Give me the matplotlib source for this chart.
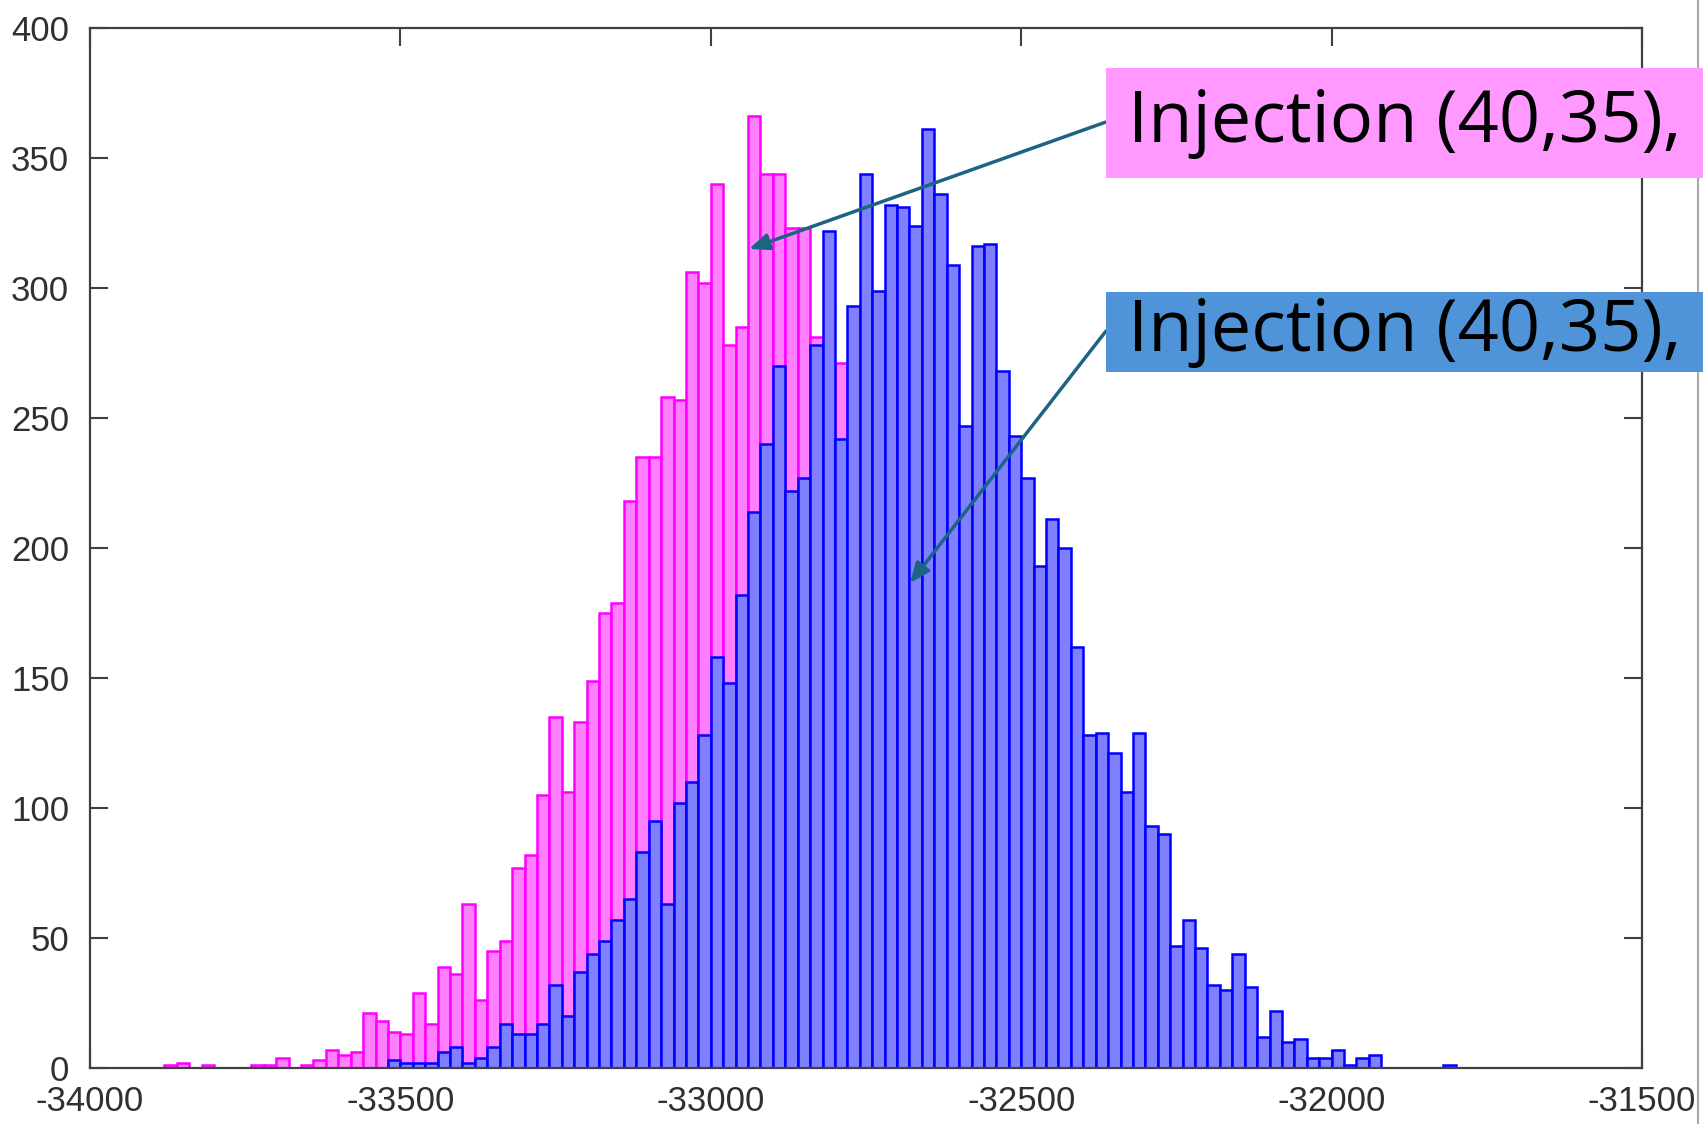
import numpy as np
import matplotlib
matplotlib.use("Agg")
import matplotlib.pyplot as plt
from matplotlib.patches import Rectangle, FancyArrowPatch
from matplotlib.lines import Line2D

plt.rcParams['axes.unicode_minus'] = False

#Histogram bins (left edges, width 20)
bin_width = 20
pink_start = -33880
blue_start = -33520

#Counts
pink_counts = [1, 2, 0, 1, 0, 0, 0, 1, 1, 4,
               0, 1, 3, 7, 5, 6, 21, 18, 14, 13,
               29, 17, 39, 36, 63, 26, 45, 49, 77, 82,
               105, 135, 106, 133, 149, 175, 179, 218, 235, 235,
               258, 257, 306, 302, 340, 278, 285, 366, 344, 344,
               323, 323, 281, 250, 271]
blue_counts = [3, 2, 2, 2, 6, 8, 2, 4, 8, 17,
               13, 13, 17, 32, 20, 37, 44, 49, 57, 65,
               83, 95, 63, 102, 110, 128, 158, 148, 182, 214,
               240, 270, 222, 227, 278, 322, 242, 293, 344, 299,
               332, 331, 324, 361, 336, 309, 247, 316, 317, 268,
               243, 227, 193, 211, 200, 162, 128, 129, 121, 106,
               129, 93, 90, 47, 57, 46, 32, 30, 44, 31,
               12, 22, 10, 11, 4, 4, 7, 1, 4, 5,
               0, 0, 0, 0, 0, 1]

x_ticks = np.arange(-34000, -31499, 500)
y_ticks = np.arange(0, 401, 50)
label_text = "Injection (40,35),"

pink_edges = pink_start + bin_width * np.arange(len(pink_counts))
blue_edges = blue_start + bin_width * np.arange(len(blue_counts))

W, H = 1703, 1124
fig = plt.figure(figsize=(W / 100, H / 100), dpi=100)
fig.patch.set_facecolor("white")
ax = fig.add_axes([90 / W, 1 - 1068 / H, (1642 - 90) / W, (1068 - 28) / H])

ax.bar(pink_edges, pink_counts, width=bin_width, align="edge",
       color="#ff80ff", edgecolor="#ff00ff", linewidth=1.8, zorder=2)
ax.bar(blue_edges, blue_counts, width=bin_width, align="edge",
       color="#8080ff", edgecolor="#0000ff", linewidth=1.8, zorder=3)

ax.set_xlim(-34000, -31500)
ax.set_ylim(0, 400)
ax.set_xticks(x_ticks)
ax.set_yticks(y_ticks)
ax.tick_params(direction="in", length=13, width=1.5, color="#404040",
               top=True, right=True, labelsize=25, labelcolor="#303030")
ax.tick_params(axis="x", pad=12)
ax.tick_params(axis="y", pad=15)
for lab in ax.get_xticklabels() + ax.get_yticklabels():
    lab.set_family("Liberation Sans")
for sp in ax.spines.values():
    sp.set_color("#404040")
    sp.set_linewidth(1.6)
    sp.set_zorder(5)

#gray border line on the right
fig.add_artist(Line2D([1698 / W, 1698 / W], [0, 1], color="#a8a8a8", lw=1.5))

#Label boxes (pasted on top of the chart)
def label_box(y_top, y_bot, color):
    fig.add_artist(Rectangle((1106 / W, 1 - y_bot / H), (W - 1106) / W,
                             (y_bot - y_top) / H, transform=fig.transFigure,
                             facecolor=color, edgecolor="none", zorder=10))
    fig.text(1128 / W, 1 - (y_top + y_bot) / 2 / H, label_text,
             fontsize=52, family=["Open Sans", "DejaVu Sans"],
             va="center", ha="left", color="black", zorder=11)

label_box(68, 178, "#ff99ff")
label_box(292, 372, "#4f93d8")

def arrow(start, end):
    fig.add_artist(FancyArrowPatch((start[0] / W, 1 - start[1] / H),
                                   (end[0] / W, 1 - end[1] / H),
                                   transform=fig.transFigure,
                                   arrowstyle="-|>,head_length=0.6,head_width=0.25",
                                   mutation_scale=20, lw=2.5, color="#1c6482",
                                   shrinkA=0, shrinkB=0, zorder=9))

arrow((1106, 122), (749, 249))
arrow((1106, 331), (910, 583))

fig.savefig("out.png", dpi=100)
